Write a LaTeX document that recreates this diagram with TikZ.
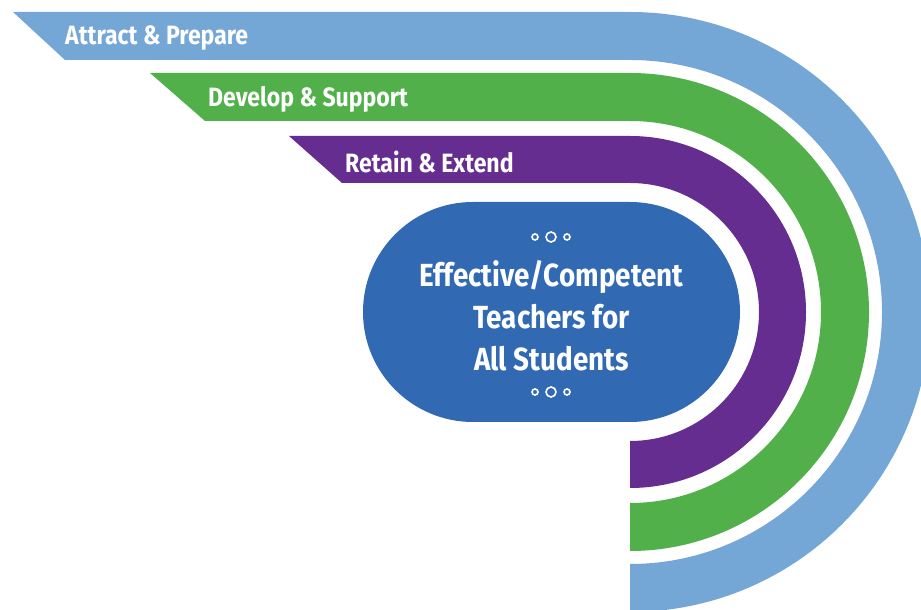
\documentclass[tikz,border=0pt]{standalone}
\usepackage{fontspec}
\setmainfont{Fira Sans}[FakeStretch=0.87]
\usetikzlibrary{shapes.misc}
\definecolor{attract}{HTML}{74A6D6}
\definecolor{develop}{HTML}{52B04A}
\definecolor{retain}{HTML}{662D91}
\definecolor{coreblue}{HTML}{3169B3}

\begin{document}
\begin{tikzpicture}[x=1pt, y=1pt,
    core/.style={rounded rectangle, fill=coreblue, minimum width=377pt, minimum height=220pt, inner sep=0pt},
    tag/.style={anchor=base west, inner sep=0pt, text=white, font=\bfseries\fontsize{26.5}{30}\selectfont},
    coretext/.style={align=center, inner sep=0pt, text=white, font=\bfseries\fontsize{32}{42}\selectfont},
    ring/.style={draw=white, line width=1.6pt}
]
    \useasboundingbox (0,0) rectangle (921,610);
    \clip (0,0) rectangle (921,610);

    % bands: colour / outer radius / inner radius / slant top x / slant bottom x
    \foreach \col/\R/\r/\a/\b in {attract/300/252/13/65, develop/239/191/150/205, retain/176/129/289/342}
        \fill[\col] (\a,298+\R) -- (630,298+\R) arc[start angle=90, end angle=-90, radius=\R]
            -- (630,298-\r) arc[start angle=-90, end angle=90, radius=\r] -- (\b,298+\r) -- cycle;

    \node[tag] (attractlbl) at (65,565) {Attract \& Prepare};
    \node[tag] (developlbl) at (208,503) {Develop \& Support};
    \node[tag] (retainlbl) at (345,437) {Retain \& Extend};

    \node[core] (core) at (551.5,298) {};
    \node[coretext] (goal) at (551.5,294) {Effective/Competent\\Teachers for\\All Students};

    % little rings above and below
    \foreach \y in {373,218} {
        \draw[ring] (535,\y) circle[radius=3];
        \draw[ring] (551,\y) circle[radius=5];
        \draw[ring] (567,\y) circle[radius=3];
    }
\end{tikzpicture}
\end{document}
